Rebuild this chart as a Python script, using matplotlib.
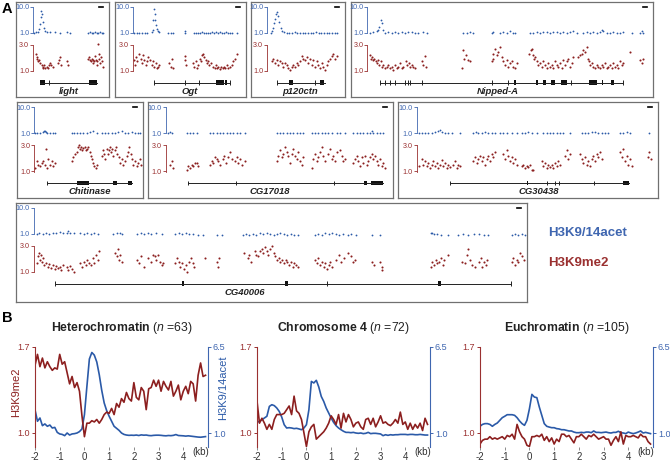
import numpy as np
import matplotlib.pyplot as plt
from matplotlib.patches import Rectangle

plt.rcParams['font.family'] = ['Liberation Sans', 'DejaVu Sans']
plt.rcParams['mathtext.fontset'] = 'custom'
plt.rcParams['mathtext.rm'] = 'Liberation Sans'
plt.rcParams['mathtext.it'] = 'Liberation Sans:italic'
plt.rcParams['mathtext.bf'] = 'Liberation Sans:bold'

RED = '#8c1f1f'
BLUE = '#2b5aa8'
RED_TXT = '#9a3030'
BLUE_TXT = '#3f66b0'
FRAME = '#707070'

# ---------------- panel A : per-gene tracks (position, value) ----------------
light_ac = [(103, 1.0), (108, 1.05), (113, 1.1), (117, 1.4), (120, 2.2), (122, 4.0), (124, 7.0), (126, 5.0),
            (128, 2.5), (131, 1.5), (135, 1.2), (141, 1.1), (150, 1.05), (165, 1.1), (180, 1.0), (200, 1.05),
            (210, 1.0), (265, 1.0), (270, 1.05), (275, 1.0), (280, 1.0), (285, 1.05), (290, 1.0), (295, 1.0),
            (300, 1.05), (305, 1.0), (310, 1.0)]
light_me = [(108, 2.3), (110, 2.05), (112, 1.9), (115, 1.7), (118, 1.8), (120, 1.55), (125, 1.4), (128, 1.3),
            (130, 1.2), (133, 1.4), (136, 1.2), (140, 1.3), (145, 1.2), (148, 1.45), (150, 1.55), (153, 1.4),
            (158, 1.3), (175, 1.55), (178, 1.8), (180, 2.05), (183, 1.4), (200, 1.7), (203, 1.4), (265, 1.9),
            (268, 2.05), (270, 1.8), (273, 1.7), (276, 1.9), (278, 1.55), (280, 1.8), (283, 1.7), (285, 2.15),
            (288, 1.8), (290, 1.4), (292, 1.7), (295, 3.05), (296, 2.3), (298, 1.9), (300, 1.55), (303, 2.05),
            (305, 1.7), (308, 1.3)]
light_span = (120, 290)
light_exons = [(120, 135), (268, 290)]
light_marks = [148]

ogt_ac = [(402, 1.0), (410, 1.02), (418, 1.0), (426, 1.03), (434, 1.0), (442, 1.0), (455, 1.05), (458, 1.3),
          (460, 3.0), (462, 8.0), (464, 5.0), (466, 3.0), (468, 2.0), (471, 1.4), (474, 1.15), (478, 1.05),
          (505, 1.0), (512, 1.02), (518, 1.0), (555, 1.0), (556, 1.15), (582, 1.0), (588, 1.02), (594, 1.0),
          (600, 1.02), (606, 1.05), (612, 1.02), (618, 1.0), (624, 1.03), (630, 1.0), (636, 1.05), (642, 1.02),
          (648, 1.08), (654, 1.03), (660, 1.05), (666, 1.02), (672, 1.0), (678, 1.05), (684, 1.02), (690, 1.0),
          (696, 1.03), (710, 1.0)]
ogt_me = [(402, 1.8), (405, 1.4), (408, 2.05), (412, 1.7), (418, 2.3), (422, 1.9), (425, 1.55), (430, 2.2),
          (433, 1.8), (437, 1.4), (440, 1.7), (445, 2.05), (450, 1.8), (455, 1.4), (460, 1.7), (463, 1.3),
          (467, 1.55), (470, 1.2), (475, 1.3), (478, 1.4), (508, 1.55), (512, 1.3), (515, 1.9), (518, 1.2),
          (555, 2.15), (556, 1.8), (558, 1.4), (580, 1.55), (583, 1.3), (587, 1.7), (590, 1.2), (595, 1.4),
          (600, 1.9), (603, 1.7), (607, 2.2), (610, 2.3), (613, 2.05), (617, 1.8), (620, 1.55), (625, 1.7),
          (628, 1.4), (632, 1.55), (640, 1.3), (645, 1.2), (648, 1.4), (652, 1.2), (655, 1.3), (660, 1.1),
          (663, 1.3), (668, 1.2), (672, 1.3), (675, 1.2), (680, 1.4), (685, 1.2), (690, 1.3), (695, 1.4),
          (700, 1.7), (705, 1.9), (710, 2.3)]
ogt_span = (462, 690)
ogt_exons = [(648, 672), (676, 682)]
ogt_marks = [462, 555, 596, 690]

p120_ac = [(812, 1.0), (817, 1.2), (820, 1.6), (823, 2.3), (826, 3.5), (829, 5.0), (832, 6.0), (835, 4.2),
           (838, 2.5), (842, 1.6), (846, 1.2), (852, 1.05), (860, 1.0), (868, 1.03), (876, 1.0), (884, 1.05),
           (892, 1.0), (900, 1.02), (908, 1.0), (916, 1.03), (924, 1.0), (932, 1.02), (940, 1.0), (948, 1.05),
           (956, 1.0), (964, 1.02), (972, 1.0), (980, 1.03), (988, 1.0), (996, 1.02), (1004, 1.0), (1010, 1.0)]
p120_me = [(815, 1.7), (820, 1.9), (825, 1.55), (830, 1.8), (835, 1.4), (840, 1.7), (845, 1.55), (850, 1.3),
           (855, 1.55), (860, 1.4), (865, 1.2), (870, 1.05), (875, 1.3), (880, 1.4), (885, 1.3), (890, 1.55),
           (895, 1.4), (900, 1.7), (905, 2.15), (910, 1.9), (915, 1.8), (920, 2.05), (925, 1.55), (930, 1.9),
           (935, 1.4), (940, 1.8), (945, 1.3), (950, 1.7), (955, 1.4), (960, 1.2), (965, 1.55), (970, 1.3),
           (975, 1.05), (980, 1.4), (985, 1.7), (990, 1.9), (995, 2.15), (1000, 2.3), (1005, 1.9), (1010, 2.15)]
p120_span = (830, 975)
p120_exons = [(866, 878), (960, 972)]
p120_marks = [830, 945]

nip_ac = [(120, 1.0), (130, 1.06), (140, 1.15), (145, 1.3), (148, 1.74), (152, 3.0), (155, 2.3), (158, 1.3),
          (165, 1.0), (175, 1.06), (185, 1.0), (195, 1.06), (205, 1.0), (215, 1.09), (225, 1.0), (235, 1.06),
          (245, 1.09), (255, 1.0), (265, 1.0), (280, 1.06), (290, 1.0), (400, 1.0), (410, 1.0), (420, 1.06),
          (428, 1.0), (485, 1.0), (490, 1.09), (510, 1.0), (520, 1.09), (530, 1.0), (540, 1.15), (548, 1.0),
          (555, 1.0), (600, 1.0), (610, 1.0), (620, 1.06), (630, 1.0), (640, 1.06), (650, 1.09), (660, 1.0),
          (670, 1.06), (680, 1.09), (690, 1.0), (700, 1.06), (710, 1.0), (720, 1.06), (730, 1.15), (740, 1.0),
          (760, 1.0), (770, 1.06), (780, 1.0), (790, 1.06), (800, 1.0), (810, 1.09), (815, 1.25), (820, 1.15),
          (830, 1.0), (840, 1.0), (850, 1.06), (860, 1.0), (870, 1.0), (880, 1.06), (905, 1.0), (930, 1.0),
          (935, 1.15), (940, 1.0)]
nip_me = [(120, 2.2), (123, 1.9), (126, 2.05), (130, 1.8), (133, 1.9), (137, 1.7), (140, 1.55), (145, 1.8),
          (148, 1.4), (152, 1.7), (155, 1.3), (160, 1.4), (165, 1.2), (170, 1.3), (175, 1.4), (180, 1.2),
          (185, 1.3), (190, 1.05), (195, 1.4), (200, 1.2), (205, 1.3), (210, 1.55), (215, 1.2), (220, 1.3),
          (228, 1.7), (232, 1.4), (236, 1.55), (240, 1.3), (245, 1.4), (250, 1.3), (255, 1.2), (275, 1.7),
          (280, 1.4), (285, 2.15), (288, 1.3), (395, 1.2), (400, 2.55), (403, 1.9), (407, 2.2), (415, 1.8),
          (420, 1.7), (485, 1.7), (488, 1.9), (490, 2.3), (495, 2.65), (500, 2.2), (505, 2.4), (510, 2.8),
          (515, 2.05), (518, 1.7), (525, 1.4), (530, 1.8), (535, 1.3), (540, 1.55), (545, 1.7), (550, 1.3),
          (555, 1.2), (560, 1.55), (598, 2.3), (602, 2.55), (605, 2.65), (608, 2.2), (612, 1.9), (615, 2.05),
          (620, 1.7), (625, 1.4), (630, 1.55), (635, 1.3), (640, 1.7), (645, 1.4), (650, 1.2), (655, 1.55),
          (660, 1.3), (665, 1.4), (670, 1.2), (675, 1.7), (680, 1.4), (685, 1.3), (690, 1.55), (695, 1.2),
          (700, 1.8), (705, 1.4), (710, 1.7), (715, 1.9), (720, 1.3), (725, 1.55), (730, 2.05), (745, 2.05),
          (750, 2.2), (755, 2.3), (760, 2.55), (765, 2.4), (770, 2.8), (773, 1.9), (776, 1.7), (780, 1.4),
          (785, 1.55), (790, 1.3), (795, 1.2), (800, 1.4), (805, 1.3), (810, 1.2), (815, 1.4), (820, 1.3),
          (825, 1.55), (830, 1.2), (835, 1.3), (840, 1.4), (845, 1.2), (850, 1.55), (855, 1.3), (860, 1.4),
          (865, 1.2), (870, 1.7), (875, 1.4), (880, 1.55), (900, 2.4), (930, 1.8), (935, 1.55), (938, 1.9)]
nip_span = (150, 880)
nip_exons = [(552, 558), (618, 625), (640, 648), (662, 676), (692, 710), (778, 800), (815, 820), (843, 853)]
nip_marks = [150, 165, 180, 195, 225, 233, 240, 275, 485, 535, 722, 878]

chit_ac = [(105, 1.0), (112, 1.06), (120, 1.0), (128, 1.1), (132, 1.2), (135, 1.26), (138, 1.15), (142, 1.06),
           (150, 1.0), (160, 1.0), (165, 1.06), (215, 1.0), (222, 1.0), (230, 1.06), (240, 1.0), (250, 1.0),
           (260, 1.06), (270, 1.15), (280, 1.26), (290, 1.0), (305, 1.0), (315, 1.0), (325, 1.06), (335, 1.0),
           (345, 1.06), (355, 1.15), (365, 1.26), (375, 1.0), (385, 1.06), (395, 1.15), (405, 1.0), (415, 1.06),
           (420, 1.0)]
chit_me = [(105, 1.2), (110, 1.75), (115, 1.5), (120, 1.35), (125, 1.6), (130, 1.75), (135, 1.5), (138, 2.7),
           (140, 1.2), (145, 1.9), (150, 1.5), (155, 1.75), (160, 1.35), (165, 1.6), (215, 1.75), (220, 2.05),
           (225, 2.3), (230, 2.45), (233, 2.85), (236, 3.0), (240, 2.7), (243, 2.85), (247, 2.6), (250, 2.8),
           (255, 2.85), (258, 2.6), (262, 2.7), (265, 2.85), (270, 2.45), (273, 2.15), (276, 1.9), (280, 1.6),
           (283, 1.35), (287, 1.2), (290, 1.5), (305, 2.15), (308, 2.6), (312, 2.3), (315, 1.9), (320, 2.7),
           (323, 2.3), (326, 2.6), (330, 2.85), (333, 2.45), (336, 2.7), (340, 2.15), (344, 2.6), (348, 2.85),
           (352, 2.3), (356, 2.05), (360, 1.6), (365, 1.9), (370, 1.5), (375, 1.75), (380, 2.15), (385, 2.45),
           (388, 2.85), (392, 2.3), (395, 1.9), (400, 1.5), (405, 1.75), (410, 1.35), (415, 1.6), (420, 1.9),
           (424, 1.5)]
chit_span = (140, 395)
chit_exons = [(232, 268), (338, 352), (385, 395)]
chit_marks = [140]

cg17_ac = [(505, 1.0), (510, 1.15), (515, 1.0), (560, 1.0), (570, 1.06), (580, 1.0), (590, 1.0), (630, 1.0),
           (640, 1.06), (650, 1.06), (660, 1.0), (670, 1.0), (680, 1.06), (690, 1.0), (700, 1.06), (710, 1.0),
           (720, 1.06), (735, 1.0), (830, 1.0), (840, 1.0), (850, 1.06), (860, 1.0), (870, 1.06), (880, 1.06),
           (890, 1.0), (900, 1.06), (910, 1.0), (935, 1.06), (945, 1.0), (955, 1.0), (965, 1.0), (975, 1.06),
           (985, 1.0), (995, 1.0), (1010, 1.06), (1020, 1.0), (1035, 1.0), (1060, 1.0), (1070, 1.06), (1080, 1.0),
           (1090, 1.06), (1100, 1.0), (1110, 1.06), (1115, 1.26), (1120, 1.06), (1130, 1.0), (1140, 1.06),
           (1150, 1.0)]
cg17_me = [(510, 1.5), (515, 1.75), (518, 1.2), (560, 1.05), (565, 1.35), (570, 1.2), (575, 1.5), (580, 1.4),
           (585, 1.6), (590, 1.6), (595, 1.35), (630, 1.5), (635, 1.75), (640, 1.6), (645, 2.05), (650, 1.9),
           (655, 1.75), (660, 1.5), (668, 1.9), (672, 2.15), (678, 1.6), (685, 2.05), (690, 2.45), (695, 1.9),
           (705, 1.75), (710, 2.05), (715, 1.6), (720, 1.9), (725, 1.5), (735, 1.75), (830, 1.75), (835, 2.15),
           (840, 2.6), (845, 2.05), (850, 2.3), (855, 2.85), (860, 2.45), (865, 2.15), (870, 1.6), (875, 2.3),
           (880, 2.7), (885, 2.15), (890, 1.9), (895, 2.45), (900, 1.75), (905, 1.5), (910, 2.05), (935, 1.2),
           (940, 1.9), (945, 2.3), (950, 1.75), (955, 2.05), (960, 2.45), (965, 2.85), (970, 2.15), (975, 1.75),
           (985, 2.3), (990, 2.7), (995, 1.9), (1000, 2.15), (1005, 1.75), (1010, 2.45), (1020, 2.6), (1025, 2.15),
           (1030, 1.75), (1035, 1.9), (1060, 1.6), (1065, 1.9), (1070, 2.15), (1075, 1.75), (1080, 1.35),
           (1085, 2.05), (1090, 1.6), (1095, 2.15), (1100, 1.5), (1105, 1.75), (1110, 2.05), (1115, 2.3),
           (1120, 1.9), (1125, 2.15), (1130, 1.75), (1135, 1.5), (1140, 1.9), (1145, 1.35), (1150, 1.6),
           (1155, 1.2)]
cg17_span = (563, 1148)
cg17_exons = [(1093, 1100), (1112, 1148)]
cg17_marks = [563, 707, 1003]

cg30_ac = [(88, 1.06), (95, 1.0), (105, 1.06), (115, 1.0), (125, 1.06), (135, 1.15), (145, 1.26), (150, 1.4),
           (155, 1.15), (165, 1.0), (175, 1.06), (185, 1.0), (210, 1.0), (250, 1.0), (258, 1.15), (265, 1.06),
           (275, 1.06), (285, 1.12), (295, 1.0), (305, 1.06), (315, 1.06), (330, 1.0), (340, 1.0), (350, 1.06),
           (365, 1.0), (380, 1.0), (395, 1.0), (405, 1.06), (415, 1.15), (425, 1.06), (440, 1.0), (460, 1.0),
           (470, 1.06), (480, 1.0), (490, 1.06), (500, 1.0), (510, 1.0), (520, 1.06), (540, 1.0), (575, 1.0),
           (585, 1.06), (595, 1.06), (605, 1.15), (615, 1.12), (625, 1.06), (635, 1.06), (645, 1.0), (655, 1.06),
           (690, 1.0), (700, 1.06), (710, 1.15), (720, 1.06), (778, 1.0)]
cg30_me = [(88, 1.35), (95, 1.9), (100, 1.5), (105, 1.75), (110, 1.35), (115, 1.6), (120, 1.2), (125, 1.5),
           (130, 1.75), (135, 1.35), (140, 1.6), (145, 1.2), (150, 1.5), (155, 1.85), (160, 1.35), (165, 1.6),
           (170, 1.2), (175, 1.5), (180, 1.3), (190, 1.5), (195, 1.75), (200, 1.2), (205, 1.5), (210, 1.35),
           (250, 1.75), (255, 2.05), (260, 1.6), (265, 1.9), (270, 2.15), (275, 1.75), (280, 2.05), (285, 1.5),
           (290, 1.9), (295, 2.15), (300, 1.75), (305, 2.3), (310, 2.05), (315, 2.45), (340, 2.3), (345, 1.9),
           (350, 2.6), (355, 2.15), (360, 1.75), (365, 2.05), (370, 1.6), (375, 1.9), (380, 1.5), (395, 1.35),
           (400, 1.5), (405, 1.2), (410, 1.4), (415, 1.3), (420, 1.5), (425, 1.1), (430, 1.05), (455, 1.75),
           (460, 1.35), (465, 1.6), (470, 1.2), (475, 1.5), (480, 1.3), (485, 1.5), (490, 1.2), (495, 1.6),
           (500, 1.4), (505, 1.75), (510, 1.5), (525, 2.15), (530, 2.6), (535, 1.9), (540, 2.3), (570, 2.3),
           (575, 1.9), (580, 1.6), (585, 2.05), (590, 1.5), (595, 1.75), (600, 1.35), (605, 1.9), (610, 2.15),
           (615, 1.75), (620, 2.3), (625, 2.05), (630, 2.45), (635, 1.9), (690, 2.45), (695, 2.05), (700, 2.7),
           (705, 1.75), (710, 2.15), (715, 1.5), (720, 1.9), (725, 1.35), (775, 2.05), (778, 2.45), (782, 1.9)]
cg30_span = (180, 718)
cg30_exons = [(410, 415), (700, 718)]
cg30_marks = [180, 470, 495, 508, 612]

cg40_ac = [(108, 1.0), (115, 1.06), (125, 1.0), (135, 1.06), (145, 1.0), (155, 1.13), (165, 1.06), (175, 1.23),
           (185, 1.06), (195, 1.13), (200, 1.35), (205, 1.13), (215, 1.06), (235, 1.06), (245, 1.0), (255, 1.06),
           (265, 1.0), (275, 1.06), (285, 1.0), (330, 1.0), (340, 1.13), (350, 1.06), (355, 1.0), (400, 1.0),
           (410, 1.06), (420, 1.0), (430, 1.06), (440, 1.0), (455, 1.06), (470, 1.0), (510, 1.0), (520, 1.06),
           (530, 1.0), (540, 1.06), (550, 1.0), (560, 1.0), (575, 0.94), (590, 0.94), (630, 0.94), (645, 0.94),
           (705, 0.94), (715, 1.0), (725, 0.94), (735, 1.0), (745, 0.94), (755, 1.06), (765, 1.0), (775, 1.06),
           (785, 1.0), (795, 0.94), (805, 1.0), (815, 1.06), (825, 1.0), (835, 0.94), (845, 1.0), (855, 0.94),
           (865, 0.94), (915, 0.94), (925, 1.0), (935, 0.94), (945, 1.06), (955, 1.0), (965, 1.06), (975, 1.0),
           (985, 0.94), (995, 1.0), (1010, 0.94), (1020, 1.0), (1035, 0.94), (1080, 0.94), (1105, 0.94),
           (1250, 1.06), (1255, 1.13), (1260, 1.0), (1270, 1.0), (1280, 0.94), (1300, 0.94), (1330, 0.94),
           (1345, 1.0), (1360, 0.94), (1375, 1.0), (1390, 1.0), (1405, 0.94), (1418, 0.94), (1485, 0.94),
           (1495, 1.0), (1505, 0.94), (1515, 1.0), (1525, 0.94)]
cg40_me = [(108, 1.65), (112, 2.2), (115, 2.45), (118, 1.9), (120, 2.3), (123, 1.75), (126, 2.05), (130, 1.5),
           (135, 1.65), (140, 1.35), (145, 1.55), (150, 1.3), (155, 1.5), (160, 1.2), (165, 1.45), (170, 1.3),
           (175, 1.35), (180, 1.15), (185, 1.5), (195, 1.35), (200, 1.1), (205, 1.45), (210, 1.2), (215, 1.0),
           (235, 1.65), (240, 1.35), (245, 1.75), (250, 1.5), (255, 1.9), (260, 1.65), (265, 1.5), (270, 2.05),
           (275, 1.65), (280, 2.3), (285, 1.9), (288, 2.6), (335, 2.45), (340, 2.2), (345, 2.7), (348, 1.9),
           (350, 2.3), (355, 1.75), (400, 1.9), (405, 1.65), (410, 2.2), (420, 1.35), (430, 2.05), (440, 1.75),
           (445, 2.3), (450, 2.2), (455, 1.9), (460, 2.3), (465, 1.75), (470, 1.5), (475, 1.65), (510, 1.65),
           (515, 2.05), (520, 1.75), (525, 1.35), (530, 1.65), (535, 1.2), (540, 1.5), (545, 0.95), (550, 1.75),
           (555, 2.05), (560, 1.65), (565, 1.35), (595, 2.05), (630, 1.75), (635, 1.35), (638, 2.05), (710, 2.45),
           (720, 2.05), (725, 2.3), (730, 1.75), (740, 2.6), (745, 2.3), (750, 2.2), (755, 2.6), (760, 2.7),
           (765, 2.45), (770, 2.85), (775, 2.6), (780, 2.3), (785, 2.7), (790, 3.0), (795, 2.45), (800, 2.2),
           (805, 1.9), (810, 2.05), (815, 1.75), (820, 1.9), (825, 1.65), (830, 1.9), (835, 1.75), (840, 1.5),
           (845, 1.75), (850, 1.35), (855, 1.65), (860, 1.5), (865, 1.35), (915, 1.9), (920, 1.65), (925, 2.05),
           (930, 1.5), (935, 1.75), (940, 1.35), (945, 1.65), (950, 1.2), (955, 1.5), (960, 1.75), (965, 1.35),
           (975, 1.9), (985, 2.3), (990, 1.75), (1000, 2.05), (1010, 2.45), (1020, 2.2), (1025, 1.75),
           (1030, 1.9), (1080, 1.75), (1085, 1.5), (1105, 1.75), (1108, 1.35), (1110, 1.1), (1250, 1.35),
           (1255, 1.75), (1260, 1.5), (1265, 1.9), (1270, 1.65), (1275, 1.75), (1280, 2.05), (1285, 1.5),
           (1290, 1.9), (1300, 2.3), (1340, 1.75), (1350, 1.65), (1355, 2.3), (1360, 2.7), (1365, 1.9),
           (1370, 1.5), (1380, 1.35), (1390, 1.75), (1395, 2.05), (1400, 1.35), (1405, 1.75), (1410, 1.5),
           (1415, 1.9), (1485, 1.75), (1490, 2.05), (1495, 1.5), (1500, 1.9), (1505, 1.75), (1510, 2.45),
           (1515, 2.2), (1520, 1.9)]
cg40_span = (162, 1482)
cg40_exons = [(529, 536), (829, 836), (1272, 1279)]
cg40_marks = [162, 950, 1482]

# ---------------- panel B : average profiles around TSS ----------------
kb = np.arange(-20, 50) / 10.0
het_me = [1.55, 1.64, 1.54, 1.61, 1.53, 1.58, 1.54, 1.51, 1.53, 1.52,
          1.64, 1.56, 1.58, 1.49, 1.40, 1.46, 1.37, 1.41, 1.34, 1.14,
          0.97, 1.08, 1.08, 1.10, 1.09, 1.11, 1.08, 1.11, 1.15, 1.17,
          1.16, 1.20, 1.15, 1.24, 1.21, 1.28, 1.25, 1.33, 1.28, 1.26,
          1.41, 1.29, 1.27, 1.37, 1.34, 1.19, 1.36, 1.37, 1.43, 1.38,
          1.43, 1.34, 1.42, 1.38, 1.35, 1.42, 1.30, 1.34, 1.39, 1.27,
          1.34, 1.38, 1.32, 1.42, 1.40, 1.26, 1.47, 1.57, 1.46, 1.47]
het_ac = [2.49, 1.75, 1.96, 1.47, 1.58, 1.43, 1.51, 1.32, 1.36, 1.04,
          0.94, 0.91, 0.83, 1.00, 0.87, 0.94, 0.96, 1.00, 1.09, 1.26,
          2.17, 3.98, 5.73, 6.15, 5.98, 5.54, 4.73, 3.73, 2.92, 2.43,
          2.07, 1.75, 1.43, 1.30, 1.17, 1.00, 0.91, 0.87, 0.85, 0.86,
          0.85, 0.87, 0.84, 0.88, 0.86, 0.87, 0.84, 0.83, 0.85, 0.86,
          0.86, 0.85, 0.83, 0.82, 0.84, 0.83, 0.85, 0.90, 0.84, 0.83,
          0.82, 0.80, 0.82, 0.80, 0.78, 0.76, 0.74, 0.73, 0.75, 0.77]
chr4_me = [1.26, 1.08, 1.12, 1.08, 1.03, 1.07, 1.03, 1.11, 1.15, 1.15,
           1.15, 1.16, 1.19, 1.22, 1.15, 1.30, 1.18, 1.16, 1.11, 1.00,
           0.89, 1.01, 1.05, 1.07, 0.95, 0.97, 0.99, 1.01, 1.04, 1.08,
           1.14, 1.11, 1.07, 1.15, 1.04, 1.16, 1.09, 1.15, 1.11, 1.05,
           1.08, 1.09, 1.05, 1.03, 1.11, 1.12, 1.07, 1.12, 1.05, 1.09,
           1.14, 1.08, 1.09, 1.07, 1.06, 1.08, 1.11, 1.08, 1.17, 1.07,
           1.09, 1.03, 1.08, 1.03, 1.07, 1.04, 1.08, 1.02, 1.12, 1.07]
chr4_ac = [1.68, 1.75, 1.85, 1.96, 2.07, 2.70, 2.81, 2.75, 2.60, 2.38,
           2.02, 1.53, 1.32, 1.34, 1.32, 1.28, 1.30, 1.26, 1.21, 1.32,
           1.53, 2.49, 4.30, 4.20, 4.37, 3.94, 3.34, 3.02, 2.60, 2.28,
           1.96, 1.68, 1.47, 1.32, 1.21, 1.11, 1.04, 1.04, 1.02, 1.04,
           1.00, 0.98, 1.00, 0.96, 0.98, 1.04, 0.96, 0.98, 0.98, 0.96,
           0.94, 0.83, 0.89, 0.85, 0.89, 0.87, 0.89, 0.89, 0.91, 0.91,
           0.91, 0.89, 0.91, 0.91, 0.89, 0.89, 0.91, 0.89, 0.87, 0.87]
eu_me = [0.91, 0.94, 0.95, 0.95, 0.97, 0.95, 0.96, 0.95, 0.96, 0.97,
         0.95, 0.98, 0.97, 0.99, 0.95, 1.07, 1.01, 0.97, 0.95, 0.90,
         0.89, 0.97, 0.97, 0.98, 0.97, 0.99, 0.94, 0.97, 0.93, 0.96,
         0.91, 0.95, 0.93, 0.99, 0.99, 0.97, 0.98, 0.95, 0.92, 0.97,
         0.97, 0.99, 0.97, 0.95, 0.98, 0.97, 0.99, 0.97, 0.95, 0.96,
         0.97, 0.95, 0.95, 0.90, 0.94, 0.97, 0.93, 1.01, 0.91, 0.98,
         0.97, 0.97, 0.98, 0.97, 0.96, 0.99, 0.97, 0.97, 0.93, 0.91]
eu_ac = [1.43, 1.55, 1.60, 1.60, 1.55, 1.43, 1.55, 1.64, 1.81, 1.98,
         2.07, 2.17, 2.17, 2.17, 2.13, 1.98, 1.77, 1.60, 1.49, 1.81,
         2.55, 3.47, 3.30, 3.26, 2.66, 2.13, 1.60, 1.43, 1.38, 1.34,
         1.34, 1.28, 1.26, 1.21, 1.21, 1.17, 1.13, 1.13, 1.06, 1.02,
         1.02, 1.04, 1.02, 1.06, 1.06, 1.02, 1.13, 1.04, 1.04, 1.02,
         1.04, 1.06, 1.02, 1.00, 1.04, 1.04, 1.11, 1.02, 1.00, 0.96,
         1.06, 1.00, 0.96, 1.00, 1.06, 1.13, 1.00, 1.04, 1.00, 0.96]

W, H = 670, 461
fig = plt.figure(figsize=(W / 100, H / 100), dpi=100)


def add_px(x0, y0, w, h):
    # axes placed in pixel units, y measured from the top
    return fig.add_axes([x0 / W, 1 - (y0 + h) / H, w / W, h / H])


def clean(ax):
    ax.patch.set_alpha(0)
    for s in ax.spines.values():
        s.set_visible(False)
    ax.set_xticks([])
    ax.set_yticks([])


def gene_panel(name, box, track, xlim, ac, me, span, exons, marks, label_at):
    bx0, by0, bx1, by1 = box
    frame = add_px(bx0, by0, bx1 - bx0, by1 - by0)
    frame.set_xticks([])
    frame.set_yticks([])
    for s in frame.spines.values():
        s.set_color(FRAME)
        s.set_linewidth(0.9)
    frame.set_xlim(bx0, bx1)
    frame.set_ylim(by1, by0)
    frame.plot([bx1 - 10, bx1 - 6], [by0 + 5, by0 + 5], color='k', lw=1.2)

    tx0, tx1 = track
    # acetylation track (log scale)
    ax = add_px(tx0, by0 + 2.5, tx1 - tx0, 30.5)
    clean(ax)
    ax.set_yscale('log')
    ax.set_xlim(*xlim)
    ax.set_ylim(10 ** -0.0755, 10 ** 1.0755)
    ax.spines['left'].set_visible(True)
    ax.spines['left'].set_color(BLUE_TXT)
    ax.spines['left'].set_linewidth(0.6)
    ax.spines['left'].set_bounds(1, 10)
    ax.set_yticks([1, 10], ['1.0', '10.0'])
    ax.minorticks_off()
    ax.tick_params(axis='y', length=2, width=0.6, color=BLUE_TXT, labelcolor=BLUE_TXT,
                   labelsize=5.2, pad=0.8)
    x, y = zip(*ac)
    ax.plot(x, y, 'o', ms=1.3, mew=0, color=BLUE, clip_on=False)

    # methylation track
    ax = add_px(tx0, by0 + 40.5, tx1 - tx0, 30.5)
    clean(ax)
    ax.set_xlim(*xlim)
    ax.set_ylim(0.808, 3.154)
    ax.spines['left'].set_visible(True)
    ax.spines['left'].set_color(RED_TXT)
    ax.spines['left'].set_linewidth(0.6)
    ax.spines['left'].set_bounds(0.95, 3.0)
    ax.set_yticks([1, 3], ['1.0', '3.0'])
    ax.tick_params(axis='y', length=2, width=0.6, color=RED_TXT, labelcolor=RED_TXT,
                   labelsize=5.2, pad=0.8)
    x, y = zip(*me)
    ax.plot(x, y, 'o', ms=1.5, mew=0, color=RED, clip_on=False)

    # gene model
    ax = add_px(tx0, by0 + 77, tx1 - tx0, 7)
    clean(ax)
    ax.set_xlim(*xlim)
    ax.set_ylim(-1, 1)
    ax.plot(span, [0, 0], color='#222222', lw=0.7)
    for a, b in exons:
        ax.add_patch(Rectangle((a, -0.6), b - a, 1.2, color='#111111', lw=0))
    ax.vlines(marks, -0.6, 0.6, color='#222222', lw=0.7)
    ax.text(label_at, -2.45, name, ha='center', va='center',
            fontsize=6.8, fontweight='bold', fontstyle='italic', color='#222222', clip_on=False)


gene_panel('light', (16, 2, 109, 97), (33, 106), (99, 318), light_ac, light_me,
           light_span, light_exons, light_marks, 205)
gene_panel('Ogt', (115, 2, 246, 97), (133, 242), (399, 726), ogt_ac, ogt_me,
           ogt_span, ogt_exons, ogt_marks, 568)
gene_panel('p120ctn', (251, 2, 345, 97), (267, 341), (801, 1023), p120_ac, p120_me,
           p120_span, p120_exons, p120_marks, 900)
gene_panel('Nipped-A', (351, 2, 653, 97), (367.3, 649), (112, 957), nip_ac, nip_me,
           nip_span, nip_exons, nip_marks, 503)
gene_panel('Chitinase', (17, 102.5, 143, 198), (34.3, 141), (103, 423), chit_ac, chit_me,
           chit_span, chit_exons, chit_marks, 268)
gene_panel('CG17018', (148, 102.5, 393, 198), (165.7, 390), (497, 1170), cg17_ac, cg17_me,
           cg17_span, cg17_exons, cg17_marks, 810)
gene_panel('CG30438', (398, 102.5, 658, 198), (416.7, 654), (80, 792), cg30_ac, cg30_me,
           cg30_span, cg30_exons, cg30_marks, 445)
gene_panel('CG40006', (16, 203, 527, 302), (33.9, 525), (100, 1524), cg40_ac, cg40_me,
           cg40_span, cg40_exons, cg40_marks, 712)

fig.text(548 / W, 1 - 233 / H, 'H3K9/14acet', color=BLUE_TXT, fontsize=9.5, fontweight='bold',
         ha='left', va='center')
fig.text(548 / W, 1 - 263 / H, 'H3K9me2', color=RED_TXT, fontsize=9.5, fontweight='bold',
         ha='left', va='center')

fig.text(2 / W, 1 - 2 / H, 'A', fontsize=10.5, fontweight='bold', ha='left', va='top')
fig.text(2 / W, 1 - 311 / H, 'B', fontsize=10.5, fontweight='bold', ha='left', va='top')


# ---------------- panel B ----------------
def profile(x0, title, n, me, ac, labels):
    ax = add_px(x0, 347, 173, 100)
    ax.patch.set_alpha(0)
    ax.set_xlim(-2, 5)
    ax.set_ylim(0.886, 1.7)
    for s in ['top', 'right', 'bottom']:
        ax.spines[s].set_visible(False)
    ax.spines['left'].set_color(RED_TXT)
    ax.spines['left'].set_linewidth(0.8)
    ax.set_yticks([1.0, 1.7], ['1.0', '1.7'])
    ax.tick_params(axis='y', length=2.5, width=0.7, color=RED_TXT, labelcolor=RED_TXT,
                   labelsize=6.5, pad=1)
    ax.set_xticks(range(-2, 5), [str(v) for v in range(-2, 5)])
    ax.tick_params(axis='x', length=2, width=0.6, color='#777777', labelsize=7, pad=1.5,
                   labelcolor='#333333')
    ax.text(4.72, 0.886, '(kb)', transform=ax.transData, fontsize=7, color='#333333',
            ha='center', va='top')
    ax.text(1.5, 1.7 + 0.09, r'$\bf{' + title + '}$ ($\it{n}$ =' + n + ')',
            ha='center', va='bottom', fontsize=8.8, color='#222222')

    ax2 = ax.twinx()
    ax2.set_ylim(0.105, 6.5)
    for s in ['top', 'left', 'bottom']:
        ax2.spines[s].set_visible(False)
    ax2.spines['right'].set_color(BLUE_TXT)
    ax2.spines['right'].set_linewidth(0.8)
    ax2.set_yticks([1.0, 6.5], ['1.0', '6.5'])
    ax2.tick_params(axis='y', length=2.5, width=0.7, color=BLUE_TXT, labelcolor=BLUE_TXT,
                    labelsize=6.5, pad=1)
    ax2.plot(kb, ac, color=BLUE, lw=1.2, zorder=2)
    ax.set_zorder(ax2.get_zorder() + 1)
    ax.plot(kb, me, color=RED, lw=1.2)
    if labels:
        ax.set_ylabel('H3K9me2', color=RED, fontsize=8)
        ax.yaxis.set_label_coords(-0.08, 0.55)
        ax2.set_ylabel('H3K9/14acet', color=BLUE, fontsize=8)
        ax2.yaxis.set_label_coords(1.06, 0.59)


profile(35, r'Heterochromatin', '63', het_me, het_ac, True)
profile(257, r'Chromosome\ 4', '72', chr4_me, chr4_ac, False)
profile(480, r'Euchromatin', '105', eu_me, eu_ac, False)

fig.savefig('out.png', dpi=100)
